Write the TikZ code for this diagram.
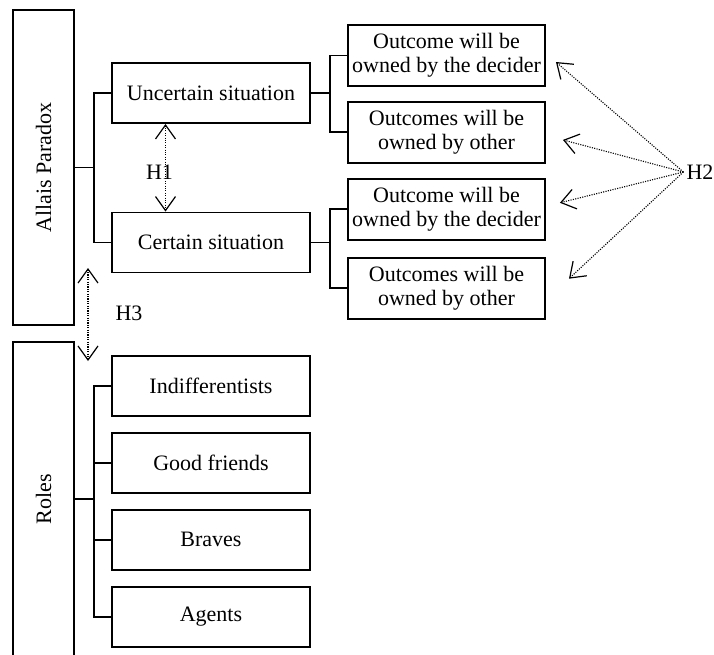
\documentclass[tikz,border=0pt]{standalone}
\usepackage{fontspec}
\setmainfont{Liberation Serif}
\usetikzlibrary{arrows.meta,positioning}

\begin{document}
\begin{tikzpicture}[x=1pt,y=-1pt,
    box/.style={draw,line width=1.9pt,minimum width=198pt,minimum height=60pt,inner sep=1pt,align=center,font=\fontsize{22}{24}\selectfont},
    side/.style={draw,line width=1.9pt,minimum width=61pt,inner sep=0pt,font=\fontsize{22}{24}\selectfont},
    link/.style={line width=1.9pt},
    hyp/.style={line width=1.1pt,dash pattern=on 1.1pt off 1.3pt,>={Straight Barb[length=14pt,width=20pt,line width=1.2pt]}},
    lbl/.style={font=\fontsize{22}{24}\selectfont,inner sep=2pt}]
    \useasboundingbox (0,0) rectangle (714,654);
    % left column
    \node[side,minimum height=315pt] (allais) at (43.5,167.5) {\rotatebox{90}{Allais Paradox}};
    \node[side,minimum height=314pt] (roles) at (43.5,499) {\rotatebox{90}{Roles}};
    % situations
    \node[box] (unc) at (211,93) {Uncertain situation};
    \node[box] (cert) at (211,242.5) {Certain situation};
    % outcomes
    \node[box,minimum width=197pt,minimum height=61pt] (o1) at (446.5,55.5) {Outcome will be\\owned by the decider};
    \node[box,minimum width=197pt,minimum height=61pt,below=14pt of o1] (o2) {Outcomes will be\\owned by other};
    \node[box,minimum width=197pt,minimum height=61pt,below=14pt of o2] (o3) {Outcome will be\\owned by the decider};
    \node[box,minimum width=197pt,minimum height=61pt,below=16pt of o3] (o4) {Outcomes will be\\owned by other};
    % roles
    \node[box] (r1) at (211,386) {Indifferentists};
    \node[box,below=15pt of r1] (r2) {Good friends};
    \node[box,below=15pt of r2] (r3) {Braves};
    \node[box,below=15pt of r3] (r4) {Agents};
    % tree lines
    \draw[link] (allais.east) -- ++(19,0) coordinate (ap);
    \draw[link] (unc.west) -| (ap) |- (cert.west);
    \draw[link] (unc.east) -- ++(19,0) coordinate (ub);
    \draw[link] (o1.west) -| (ub) |- (o2.west);
    \draw[link] (cert.east) -- ++(19,0) coordinate (cb);
    \draw[link] (o3.west) -| (cb) |- (o4.west);
    \draw[link] (roles.east) -- ++(19,0) coordinate (rb);
    \draw[link] (r1.west) -| (rb) |- (r4.west);
    \draw[link] (rb |- r2.west) -- (r2.west);
    \draw[link] (rb |- r3.west) -- (r3.west);
    % hypotheses
    \draw[hyp,<->] ([xshift=-45.5pt]unc.south) -- ([xshift=-45.5pt]cert.north);
    \node[lbl] (h1) at (159.5,172) {H1};
    \coordinate (h3top) at (88,268);
    \coordinate (h3bot) at (88,361);
    \draw[hyp,<->] (h3top) -- (h3bot);
    \node[lbl] (h3) at (129,313) {H3};
    \node[lbl,inner sep=3pt] (h2) at (700,172) {H2};
    \draw[hyp,->] (h2.west) -- ([shift={(10,6.5)}]o1.east);
    \draw[hyp,->] (h2.west) -- ([shift={(17,7.5)}]o2.east);
    \draw[hyp,->] (h2.west) -- ([shift={(14,-6.5)}]o3.east);
    \draw[hyp,->] (h2.west) -- ([shift={(23,-9.5)}]o4.east);
\end{tikzpicture}
\end{document}
